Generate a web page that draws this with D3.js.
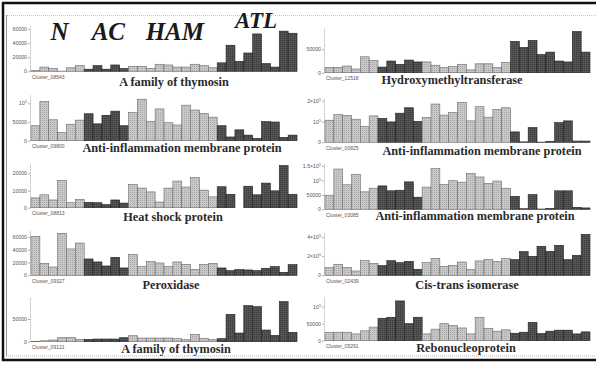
<!DOCTYPE html>
<html>
<head>
<meta charset="utf-8">
<script src="https://cdn.jsdelivr.net/npm/d3@7"></script>
<style>
  body { margin: 0; background: #fff; }
  svg { display: block; }
</style>
</head>
<body>
<div id="chart"></div>
<script>
// sample groups, in bar order
const groups = ["N", "AC", "HAM", "ATL"];
const groupSizes = [6, 5, 10, 9];

const titles = [
  "A family of thymosin", "Hydroxymethyltransferase",
  "Anti-inflammation membrane protein", "Anti-inflammation membrane protein",
  "Heat shock protein", "Anti-inflammation membrane protein",
  "Peroxidase", "Cis-trans isomerase",
  "A family of thymosin", "Rebonucleoprotein"
];
const clusters = [
  "Cluster_08543", "Cluster_12518", "Cluster_09800", "Cluster_00825", "Cluster_08813",
  "Cluster_03085", "Cluster_09327", "Cluster_02439", "Cluster_09121", "Cluster_05291"
];

// y tick values of each panel
const ticks = [
  [0, 20000, 40000, 60000], [0, 50000],
  [0, 50000, 100000], [0, 100000, 200000],
  [0, 10000, 20000], [0, 50000, 100000, 150000],
  [0, 20000, 40000, 60000], [0, 200000, 400000],
  [0, 50000], [0, 50000, 100000]
];

// expression values, 30 samples per cluster
const thymosin08543 = [1000, 6000, 4000, 300, 5000, 8000, 3000, 8000, 3000, 9000, 4000,
  7000, 7000, 4000, 10000, 9000, 6000, 6000, 10000, 8000, 5000,
  12000, 37000, 14000, 26000, 53000, 11000, 6000, 57000, 54000];
const hydroxy12518 = [11400, 11400, 14300, 7900, 34000, 26000, 12000, 25000, 18000, 27000, 23000,
  23000, 16000, 11000, 13000, 18000, 6000, 19000, 19000, 11000, 22000,
  67000, 54000, 69000, 39000, 44000, 25000, 23000, 88000, 44000];
const antiInfl09800 = [40000, 105000, 56000, 22000, 44000, 55000, 72000, 45000, 68000, 79000, 40000,
  76000, 111000, 52000, 85000, 48000, 42000, 95000, 82000, 73000, 63000,
  40000, 10000, 29000, 15000, 6000, 51000, 50000, 9000, 15000];
const antiInfl00825 = [106000, 134000, 129000, 111000, 76000, 127000, 115000, 98000, 140000, 166000, 100000,
  119000, 184000, 131000, 144000, 192000, 103000, 171000, 121000, 158000, 166000,
  50000, 2000, 71000, 1000, 5000, 95000, 103000, 6000, 6000];
const heatShock08813 = [5700, 7500, 4500, 15900, 2900, 4900, 3100, 2900, 1800, 4500, 2700,
  13500, 11400, 9200, 3300, 11400, 15500, 12000, 17500, 10200, 6300,
  12200, 7800, 0, 12500, 7500, 14300, 9800, 24500, 7800];
const antiInfl03085 = [48800, 139500, 85000, 121000, 60500, 73000, 81000, 64000, 66000, 95000, 42000,
  77000, 141000, 86000, 99000, 94000, 124000, 112000, 90000, 98000, 73000,
  45000, 2000, 51000, 1000, 3500, 64000, 64000, 7000, 4700];
const peroxidase09327 = [61000, 18800, 13000, 65800, 41300, 50600, 25600, 20900, 14600, 28200, 11500,
  32900, 13600, 21400, 19300, 13600, 20900, 17200, 9400, 17200, 18800,
  11500, 7300, 8900, 8400, 7300, 11000, 13600, 4700, 16700];
const isomerase02439 = [80000, 115000, 83000, 45000, 153000, 125000, 101000, 153000, 132000, 146000, 63000,
  132000, 177000, 94000, 104000, 139000, 63000, 150000, 163000, 146000, 174000,
  163000, 247000, 198000, 303000, 250000, 313000, 163000, 209000, 428000];
const thymosin09121 = [300, 2000, 3700, 8800, 9600, 5100, 5100, 5900, 5900, 5900, 8800,
  13200, 8100, 8100, 8100, 8100, 6600, 4400, 16200, 7400, 4400,
  6600, 60300, 19100, 79400, 77200, 25700, 14000, 88200, 20600];
const ribo05291 = [24000, 25000, 25000, 20000, 29000, 40000, 66000, 69000, 117000, 50000, 69000,
  20000, 34000, 50000, 45000, 37500, 20000, 69000, 36500, 28000, 32000,
  22000, 25000, 54000, 21000, 28000, 31000, 31000, 20000, 26000];

const series = [thymosin08543, hydroxy12518, antiInfl09800, antiInfl00825, heatShock08813,
  antiInfl03085, peroxidase09327, isomerase02439, thymosin09121, ribo05291];

// layout of the panels (pixels)
const colRange = [[31, 297], [325, 590]];
const panels = [
  {col: 0, base: 71.3, topY: 29,    axisTop: 26,  tx: 174, ty: 82},
  {col: 1, base: 72.7, topY: 49.3,  axisTop: 28,  tx: 452, ty: 80},
  {col: 0, base: 140.7, topY: 103.3, axisTop: 95,  tx: 182, ty: 148},
  {col: 1, base: 142.3, topY: 100.7, axisTop: 98,  tx: 482, ty: 151},
  {col: 0, base: 207.7, topY: 173.3, axisTop: 163, tx: 173, ty: 217},
  {col: 1, base: 209.3, topY: 166,   axisTop: 163, tx: 475, ty: 216},
  {col: 0, base: 275.3, topY: 237,   axisTop: 230, tx: 171, ty: 285},
  {col: 1, base: 275.3, topY: 237,   axisTop: 232, tx: 467, ty: 285},
  {col: 0, base: 341.7, topY: 319,   axisTop: 297, tx: 176, ty: 349},
  {col: 1, base: 340.7, topY: 306.7, axisTop: 297, tx: 466, ty: 348}
];

const width = 596, height = 365;
const svg = d3.select("#chart").append("svg")
  .attr("width", width).attr("height", height);

// textures for the bars
const defs = svg.append("defs");
function texture(id, bg, dot) {
  const p = defs.append("pattern").attr("id", id)
    .attr("patternUnits", "userSpaceOnUse").attr("width", 2).attr("height", 2);
  p.append("rect").attr("width", 2).attr("height", 2).attr("fill", bg);
  p.append("rect").attr("width", 1).attr("height", 1).attr("fill", dot);
}
texture("lightTex", "#c8c8c8", "#a8a8a8");
texture("darkTex", "#545454", "#383838");

// group of each sample -> colour
const sampleGroup = [];
groupSizes.forEach((n, g) => { for (let i = 0; i < n; i++) sampleGroup.push(g); });
const idx = d3.range(sampleGroup.length);

// frame
svg.append("line").attr("x1", 2).attr("x2", width).attr("y1", 3).attr("y2", 3)
  .attr("stroke", "#111").attr("stroke-width", 2.5);
svg.append("line").attr("x1", 3).attr("x2", 3).attr("y1", 2).attr("y2", 361)
  .attr("stroke", "#111").attr("stroke-width", 2.5);
svg.append("line").attr("x1", 2).attr("x2", width).attr("y1", 360).attr("y2", 360)
  .attr("stroke", "#111").attr("stroke-width", 2.5);
svg.append("line").attr("x1", 7).attr("x2", width).attr("y1", 15.5).attr("y2", 15.5)
  .attr("stroke", "#aaa").attr("stroke-width", 0.7).attr("stroke-dasharray", "1,1");
svg.append("line").attr("x1", 6.5).attr("x2", 6.5).attr("y1", 15).attr("y2", 356)
  .attr("stroke", "#777").attr("stroke-width", 0.8);
svg.append("line").attr("x1", 6).attr("x2", width).attr("y1", 356).attr("y2", 356)
  .attr("stroke", "#999").attr("stroke-width", 0.7).attr("stroke-dasharray", "1,1");

// tick label: plain number, or mantissa x 10 with a raised 5
function tickLabel(sel) {
  sel.each(function(v) {
    const t = d3.select(this).text(null);
    if (v >= 100000) {
      const m = v / 100000;
      t.append("tspan").text((m === 1 ? "" : m + "×") + "10");
      t.append("tspan").attr("dy", -2).style("font-size", "3.8px").text("5");
    } else {
      t.text(String(v));
    }
  });
}

panels.forEach((p, k) => {
  const data = series[k];
  const x = d3.scaleBand().domain(idx).range(colRange[p.col]).padding(0);
  const tTop = d3.max(ticks[k]);
  const yMax = tTop * (p.base - p.axisTop) / (p.base - p.topY);
  const y = d3.scaleLinear().domain([0, yMax]).range([p.base, p.axisTop]);

  const g = svg.append("g");

  g.selectAll("rect").data(data).join("rect")
    .attr("x", (d, i) => x(i))
    .attr("y", d => y(d))
    .attr("width", x.bandwidth())
    .attr("height", d => p.base - y(d))
    .attr("fill", (d, i) => sampleGroup[i] % 2 ? "url(#darkTex)" : "url(#lightTex)")
    .attr("stroke", (d, i) => sampleGroup[i] % 2 ? "#1e1e1e" : "#6a6a6a")
    .attr("stroke-width", 0.6);

  const ax = g.append("g")
    .attr("transform", `translate(${colRange[p.col][0] - 1},0)`)
    .call(d3.axisLeft(y).tickValues(ticks[k]).tickSize(2).tickSizeOuter(0));
  ax.select(".domain").attr("stroke", "#8a8a8a").attr("stroke-width", 0.6)
    .attr("stroke-dasharray", "1,0.6");
  ax.selectAll(".tick line").attr("stroke", "#777").attr("stroke-width", 0.6);
  ax.selectAll(".tick text").attr("x", -3).attr("fill", "#555")
    .style("font-family", "Liberation Sans, Arial, sans-serif").style("font-size", "5.2px")
    .call(tickLabel);

  g.append("text")
    .attr("x", colRange[p.col][0] + 1)
    .attr("y", p.base + 7.5)
    .attr("fill", "#555")
    .style("font-family", "Liberation Sans, Arial, sans-serif")
    .style("font-size", "5px")
    .text(clusters[k]);

  g.append("text")
    .attr("x", p.tx).attr("y", p.ty)
    .attr("dy", "0.35em")
    .attr("text-anchor", "middle")
    .attr("fill", "#2a2a2a")
    .style("font-family", "Liberation Serif, Times New Roman, serif")
    .style("font-weight", "bold")
    .style("font-size", "12.3px")
    .text(titles[k]);
});

// group names over the first panel
const xTop = d3.scaleBand().domain(idx).range(colRange[0]).padding(0);
let start = 0;
const groupLabels = groups.map((name, gi) => {
  const cx = xTop(start) + xTop.bandwidth() * groupSizes[gi] / 2;
  start += groupSizes[gi];
  return {name, cx, last: gi === groups.length - 1};
});
svg.append("g").selectAll("text").data(groupLabels).join("text")
  .attr("x", d => d.cx + (d.last ? -1 : 2))
  .attr("y", d => d.last ? 27.5 : 40)
  .attr("text-anchor", "middle")
  .attr("fill", "#1a1a1a")
  .style("font-family", "Liberation Serif, Times New Roman, serif")
  .style("font-weight", "bold")
  .style("font-style", "italic")
  .style("font-size", d => d.last ? "23px" : "25px")
  .text(d => d.name);
</script>
</body>
</html>
